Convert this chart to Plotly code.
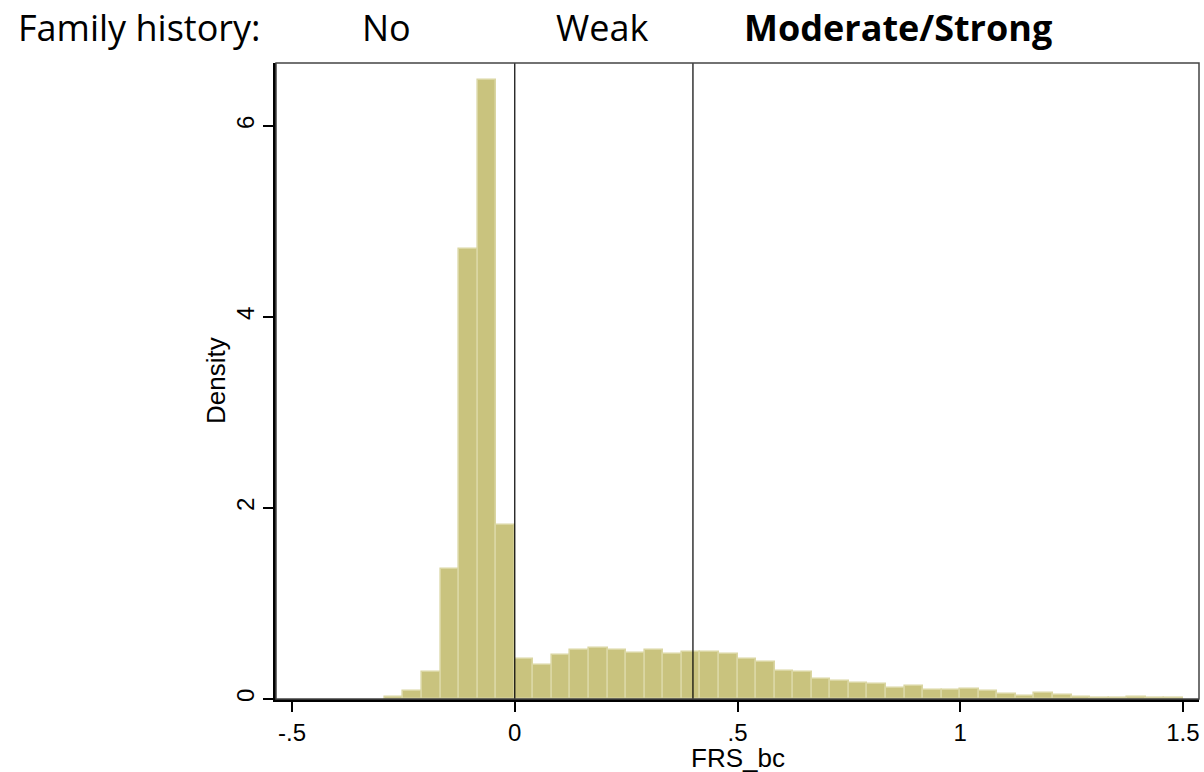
import plotly.graph_objects as go

# ---- data ----
bin_start = -7 / 24          # left edge of first bin
bin_width = 1 / 24           # histogram bin width
density = [0.02, 0.08, 0.28, 1.36, 4.71, 6.48, 1.82,
           0.424, 0.357, 0.466, 0.511, 0.539, 0.508, 0.483, 0.508, 0.473, 0.497,
           0.497, 0.476, 0.424, 0.389, 0.294, 0.284, 0.214, 0.189, 0.165, 0.154,
           0.112, 0.133, 0.098, 0.098, 0.105, 0.081, 0.049, 0.032, 0.060, 0.039,
           0.018, 0.007, 0.007, 0.018, 0.007, 0.007]
cutoffs = [0, 0.4]
x_ticks = [-0.5, 0, 0.5, 1, 1.5]
x_ticklabels = ["-.5", "0", ".5", "1", "1.5"]
y_ticks = [0, 2, 4, 6]
y_ticklabels = ["0", "2", "4", "6"]
header_labels = ["Family history:", "No", "Weak", "Moderate/Strong"]
x_title = "FRS_bc"
y_title = "Density"

centers = [bin_start + (i + 0.5) * bin_width for i in range(len(density))]

# ---- geometry (body margin removed by post_script) ----
W, H = 1204, 772
ml, mt = 276, 63
mr = W - 1199
mb = H - 699
pw, ph = W - ml - mr, H - mt - mb

def px_x(p):
    return (p - ml) / pw

def px_y(p):
    return (H - mb - p) / ph

fig = go.Figure()
fig.add_trace(go.Bar(
    x=centers, y=density, width=[bin_width] * len(density),
    marker=dict(color="#c9c37e", line=dict(color="#dad6a2", width=1.6)),
    hoverinfo="skip", showlegend=False,
))

for c in cutoffs:
    fig.add_shape(type="line", xref="x", yref="paper", x0=c, x1=c, y0=0, y1=1,
                  line=dict(color="black", width=1.2), layer="above")

# frame
fig.add_shape(type="rect", xref="paper", yref="paper", x0=0, x1=1, y0=0, y1=1,
              line=dict(color="#444444", width=1.5), layer="above")

tick_font = dict(family="Liberation Sans, Arial, sans-serif", size=24, color="black")
title_font = dict(family="Liberation Sans, Arial, sans-serif", size=26, color="black")
fig.update_xaxes(
    range=[-0.536, 1.536], tickvals=x_ticks, ticktext=x_ticklabels,
    ticks="outside", ticklen=10, tickwidth=1.5, tickcolor="black",
    showline=True, linecolor="black", linewidth=2.5, showgrid=False, zeroline=False,
    tickfont=tick_font,
)
fig.update_yaxes(
    range=[0, 6.66], tickvals=y_ticks, ticktext=y_ticklabels, tickangle=-90,
    ticks="outside", ticklen=10, tickwidth=1.5, tickcolor="black",
    showline=True, linecolor="black", linewidth=2.5, showgrid=False, zeroline=False,
    tickfont=tick_font,
)

# axis titles as annotations for precise placement
fig.add_annotation(text=x_title, xref="x", yref="paper", x=0.5, y=px_y(758),
                   xanchor="center", yanchor="middle", showarrow=False, font=title_font)
fig.add_annotation(text=y_title, xref="paper", yref="paper", x=px_x(216), y=px_y(381),
                   xanchor="center", yanchor="middle", textangle=-90,
                   showarrow=False, font=title_font)

head_font = dict(family="Open Sans, sans-serif", size=36, color="black")
header_pos = [(16, "left"), (386, "center"), (602, "center"), (898, "center")]
for i, (lab, (xp, anc)) in enumerate(zip(header_labels, header_pos)):
    txt = f"<b>{lab}</b>" if i == 3 else lab
    fig.add_annotation(text=txt, xref="paper", yref="paper", x=px_x(xp), y=px_y(27),
                       xanchor=anc, yanchor="middle", showarrow=False, font=head_font)

fig.update_layout(
    width=W, height=H, margin=dict(l=ml, r=mr, t=mt, b=mb),
    paper_bgcolor="white", plot_bgcolor="white", bargap=0,
)

fig.write_html(
    "out.html",
    config={"displayModeBar": False},
    post_script="document.body.style.margin='0';document.body.style.overflow='hidden';",
)
